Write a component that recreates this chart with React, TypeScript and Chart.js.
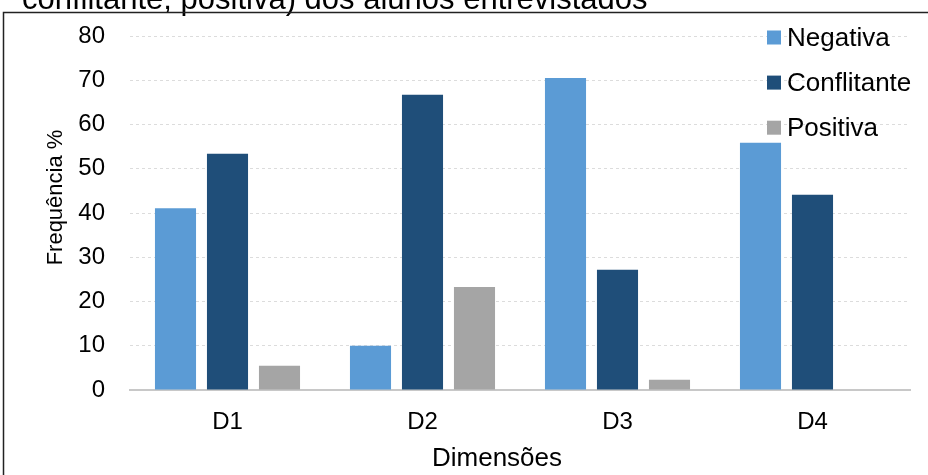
import React, { useEffect, useRef } from "react";
import { Chart, registerables } from "chart.js";

Chart.register(...registerables);

// Data: share (%) of each attitude per dimension
const dimensions = ["D1", "D2", "D3", "D4"];
const seriesNames = ["Negativa", "Conflitante", "Positiva"];
const negativa = [41.1, 10.0, 70.5, 55.9];
const conflitante = [53.4, 66.7, 27.2, 44.1];
const positiva = [5.5, 23.3, 2.3, 0];
const seriesColors = ["#5b9bd5", "#1f4e79", "#a5a5a5"];

const yMin = 0;
const yMax = 80;
const yStep = 10;

const captionTail = "conflitante, positiva) dos alunos entrevistados";
const yTitle = "Frequência %";
const xTitle = "Dimensões";

const FONT = "'Liberation Sans', Arial, Helvetica, sans-serif";

// Frame, caption, legend and axis titles drawn on the canvas
const decorPlugin = {
  id: "decor",
  beforeDraw(chart: Chart) {
    const ctx = chart.ctx;
    ctx.save();
    ctx.fillStyle = "#ffffff";
    ctx.fillRect(0, 0, chart.width, chart.height);

    // caption line that runs above the frame
    ctx.fillStyle = "#000000";
    ctx.font = `31px ${FONT}`;
    ctx.textAlign = "left";
    ctx.textBaseline = "alphabetic";
    ctx.fillText(captionTail, 22, 9);

    // frame around the chart
    ctx.strokeStyle = "#222222";
    ctx.lineWidth = 1.5;
    ctx.beginPath();
    ctx.moveTo(3.5, chart.height + 2);
    ctx.lineTo(3.5, 12.5);
    ctx.lineTo(chart.width + 2, 12.5);
    ctx.stroke();
    ctx.restore();
  },
  afterDraw(chart: Chart) {
    const ctx = chart.ctx;
    ctx.save();
    ctx.fillStyle = "#000000";

    // y axis title
    ctx.font = `22px ${FONT}`;
    ctx.textAlign = "center";
    ctx.textBaseline = "middle";
    ctx.translate(56, 197.5);
    ctx.rotate(-Math.PI / 2);
    ctx.fillText(yTitle, 0, 0);
    ctx.setTransform(1, 0, 0, 1, 0, 0);

    // x axis title
    ctx.font = `26px ${FONT}`;
    ctx.fillText(xTitle, 497, 459);

    // legend
    ctx.font = `26px ${FONT}`;
    ctx.textAlign = "left";
    chart.data.datasets.forEach((ds, i) => {
      const cy = 37.5 + i * 45.1;
      ctx.fillStyle = ds.backgroundColor as string;
      ctx.fillRect(767, cy - 7, 14, 14);
      ctx.fillStyle = "#000000";
      ctx.fillText(ds.label as string, 787, cy + 1);
    });
    ctx.restore();
  },
};

export default function App() {
  const canvasRef = useRef<HTMLCanvasElement>(null);

  useEffect(() => {
    const canvas = canvasRef.current;
    if (!canvas) return;
    const values = [negativa, conflitante, positiva];
    const chart = new Chart(canvas, {
      type: "bar",
      data: {
        labels: dimensions,
        datasets: seriesNames.map((name, i) => ({
          label: name,
          data: values[i],
          backgroundColor: seriesColors[i],
          borderWidth: 0,
          categoryPercentage: 0.8,
          barPercentage: 0.79,
        })),
      },
      options: {
        responsive: false,
        animation: false,
        devicePixelRatio: 1,
        layout: { padding: { top: 36, right: 18, left: 0, bottom: 0 } },
        plugins: {
          legend: { display: false },
          tooltip: { enabled: false },
          title: { display: false },
        },
        scales: {
          x: {
            grid: { display: false },
            border: { display: true, color: "#c8c8c8", width: 2 },
            ticks: {
              color: "#000000",
              font: { family: FONT, size: 24 },
              padding: 10,
            },
            afterFit(scale: any) {
              scale.height = 85;
            },
          },
          y: {
            min: yMin,
            max: yMax,
            grid: {
              color: "#dcdcdc",
              lineWidth: 1,
              drawTicks: false,
            },
            border: { display: false, dash: [3, 3] },
            ticks: {
              stepSize: yStep,
              color: "#000000",
              font: { family: FONT, size: 24 },
              padding: 25,
            },
            afterFit(scale: any) {
              scale.width = 130;
              scale.paddingTop = 0;
              scale.paddingBottom = 0;
            },
          },
        },
      },
      plugins: [decorPlugin],
    });
    return () => chart.destroy();
  }, []);

  return (
    <div
      style={{
        position: "fixed",
        left: 0,
        top: 0,
        width: 928,
        height: 475,
        background: "#ffffff",
      }}
    >
      <canvas
        ref={canvasRef}
        width={928}
        height={475}
        style={{ display: "block", width: 928, height: 475 }}
      />
    </div>
  );
}
